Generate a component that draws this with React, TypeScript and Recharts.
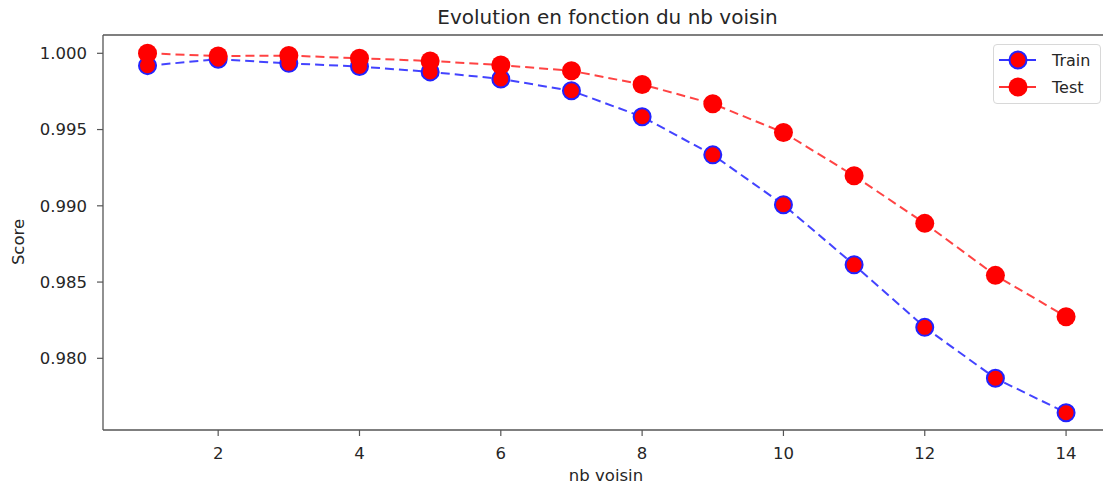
import { LineChart, Line, XAxis, YAxis, ReferenceLine } from 'recharts'

const voisins = [1, 2, 3, 4, 5, 6, 7, 8, 9, 10, 11, 12, 13, 14]
const trainScores = [
  0.99919, 0.99961, 0.99934, 0.99913, 0.99878, 0.99832, 0.99754, 0.99584, 0.99334, 0.99007,
  0.98613, 0.98203, 0.97869, 0.97643,
]
const testScores = [
  1.0, 0.99982, 0.99985, 0.99967, 0.9995, 0.99923, 0.99885, 0.99796, 0.99669, 0.99481, 0.99197,
  0.98885, 0.98544, 0.98273,
]
const xTicks = [2, 4, 6, 8, 10, 12, 14]
const yTicks = [0.98, 0.985, 0.99, 0.995, 1.0]

const chartData = voisins.map((v, i) => ({ voisin: v, train: trainScores[i], test: testScores[i] }))

const FONT = '"DejaVu Sans", sans-serif'
const TEXT = '#262626'
const AXIS = '#555'
const Y_MIN = 0.9753
const Y_MAX = 1.0012

function TrainDot(props: any) {
  const { cx, cy } = props
  if (cx == null || cy == null) return null
  return <circle cx={cx} cy={cy} r={8.5} fill="#ff0000" stroke="#2222ff" strokeWidth={2} />
}

function TestDot(props: any) {
  const { cx, cy } = props
  if (cx == null || cy == null) return null
  return <circle cx={cx} cy={cy} r={9.5} fill="#ff0000" stroke="none" />
}

function LegendBox() {
  const rows = [
    { name: 'Train', line: '#3333ff', edge: '#2222ff', r: 8.5 },
    { name: 'Test', line: '#ff3333', edge: 'none', r: 9.5 },
  ]
  return (
    <div
      style={{
        position: 'absolute',
        left: 993,
        top: 44,
        width: 108,
        height: 60,
        border: '1px solid #d8d8d8',
        borderRadius: 4,
        background: 'rgba(255,255,255,0.85)',
        boxSizing: 'border-box',
      }}
    >
      <svg width={108} height={60} style={{ position: 'absolute', left: -1, top: -1 }}>
        {rows.map((r, i) => {
          const y = 16 + i * 27
          return (
            <g key={r.name}>
              <line x1={6} x2={43} y1={y} y2={y} stroke={r.line} strokeWidth={2} />
              <circle cx={25} cy={y} r={r.r} fill="#ff0000" stroke={r.edge} strokeWidth={2} />
              <text x={59} y={y + 6} fontSize={16} fontFamily={FONT} fill={TEXT}>
                {r.name}
              </text>
            </g>
          )
        })}
      </svg>
    </div>
  )
}

export default function App() {
  return (
    <div
      style={{
        position: 'absolute',
        left: 0,
        top: 0,
        width: 1103,
        height: 488,
        overflow: 'hidden',
        background: '#fff',
        fontFamily: FONT,
      }}
    >
      <div
        style={{
          position: 'absolute',
          left: 0,
          width: 1215,
          top: 5,
          textAlign: 'center',
          fontSize: 20,
          color: TEXT,
        }}
      >
        Evolution en fonction du nb voisin
      </div>
      <div
        style={{
          position: 'absolute',
          left: 8,
          top: 242,
          transform: 'translate(-50%, -50%) rotate(-90deg)',
          marginLeft: 10,
          fontSize: 16.5,
          color: TEXT,
          whiteSpace: 'nowrap',
        }}
      >
        Score
      </div>
      <div
        style={{
          position: 'absolute',
          left: 0,
          width: 1212,
          top: 466,
          textAlign: 'center',
          fontSize: 16.5,
          color: TEXT,
        }}
      >
        nb voisin
      </div>
      <LineChart
        width={1112}
        height={488}
        data={chartData}
        margin={{ top: 35, right: 0, bottom: 0, left: 0 }}
        style={{ position: 'absolute', left: 0, top: 0 }}
      >
        <XAxis
          dataKey="voisin"
          type="number"
          domain={[0.37, 14.65]}
          ticks={xTicks}
          allowDataOverflow
          height={58}
          tickSize={6}
          tickMargin={11}
          tick={{ fill: TEXT, fontSize: 16.5, fontFamily: FONT }}
          axisLine={{ stroke: AXIS, strokeWidth: 1.3 }}
          tickLine={{ stroke: AXIS, strokeWidth: 1.2 }}
        />
        <YAxis
          type="number"
          domain={[Y_MIN, Y_MAX]}
          ticks={yTicks}
          allowDataOverflow
          width={103}
          tickSize={6}
          tickMargin={10}
          tickFormatter={(v: number) => v.toFixed(3)}
          tick={{ fill: TEXT, fontSize: 16.5, fontFamily: FONT }}
          axisLine={{ stroke: AXIS, strokeWidth: 1.3 }}
          tickLine={{ stroke: AXIS, strokeWidth: 1.2 }}
        />
        <ReferenceLine y={Y_MAX} stroke={AXIS} strokeWidth={1.3} />
        <Line
          type="linear"
          dataKey="train"
          stroke="#2222ff"
          strokeOpacity={0.85}
          strokeWidth={2}
          strokeDasharray="9 5"
          dot={<TrainDot />}
          activeDot={false}
          isAnimationActive={false}
        />
        <Line
          type="linear"
          dataKey="test"
          stroke="#ff2222"
          strokeOpacity={0.85}
          strokeWidth={2}
          strokeDasharray="9 5"
          dot={<TestDot />}
          activeDot={false}
          isAnimationActive={false}
        />
      </LineChart>
      <LegendBox />
    </div>
  )
}
